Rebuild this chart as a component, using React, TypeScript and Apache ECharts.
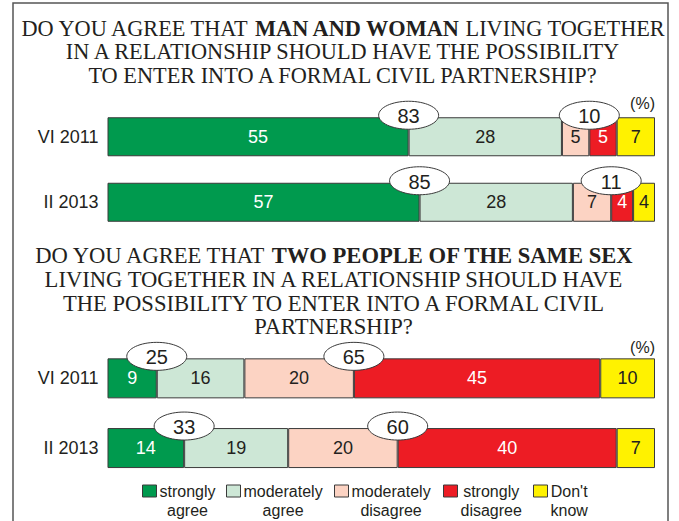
import React, { useEffect, useRef } from 'react';
import * as echarts from 'echarts';

const categories = ['VI 2011', 'II 2013'];
const seriesNames = ['strongly agree', 'moderately agree', 'moderately disagree', 'strongly disagree', "Don't know"];
const legendLines = [['strongly', 'agree'], ['moderately', 'agree'], ['moderately', 'disagree'], ['strongly', 'disagree'], ["Don't", 'know']];
const colors = ['#009a4e', '#cde7d6', '#fcd3c3', '#ed1c24', '#fff200'];
const labelColors = ['#ffffff', '#231f20', '#231f20', '#ffffff', '#231f20'];

// Question 1 (man and woman)
const q1StronglyAgree = [55, 57];
const q1ModeratelyAgree = [28, 28];
const q1ModeratelyDisagree = [5, 7];
const q1StronglyDisagree = [5, 4];
const q1DontKnow = [7, 4];
const q1AgreeTotal = [83, 85];
const q1DisagreeTotal = [10, 11];

// Question 2 (same sex)
const q2StronglyAgree = [9, 14];
const q2ModeratelyAgree = [16, 19];
const q2ModeratelyDisagree = [20, 20];
const q2StronglyDisagree = [45, 40];
const q2DontKnow = [10, 7];
const q2AgreeTotal = [25, 33];
const q2DisagreeTotal = [65, 60];

// Titles: odd segments are bold
const title1Lines = [
  ['DO YOU AGREE THAT ', 'MAN AND WOMAN', ' LIVING TOGETHER'],
  ['IN A RELATIONSHIP SHOULD HAVE THE POSSIBILITY'],
  ['TO ENTER INTO A FORMAL CIVIL PARTNERSHIP?'],
];
const title2Lines = [
  ['DO YOU AGREE THAT ', 'TWO PEOPLE OF THE SAME SEX'],
  ['LIVING TOGETHER IN A RELATIONSHIP SHOULD HAVE'],
  ['THE POSSIBILITY TO ENTER INTO A FORMAL CIVIL'],
  ['PARTNERSHIP?'],
];
const unitLabel = '(%)';

const SANS = "'Liberation Sans', Arial, Helvetica, sans-serif";
const SERIF = "'Liberation Serif', 'Times New Roman', serif";
const TEXT = '#231f20';
const BORDER = '#3a3a3a';

function richTitle(lines: string[][]) {
  return lines
    .map((segs) => segs.map((s, i) => `{${i % 2 ? 'b' : 'n'}|${s}}`).join(''))
    .join('\n');
}

function titleRich(size: number, lh: number) {
  return {
    n: { align: 'center', fontSize: size, lineHeight: lh, fontFamily: SERIF, fill: TEXT },
    b: { align: 'center', fontSize: size, lineHeight: lh, fontFamily: SERIF, fontWeight: 'bold', fill: TEXT },
  };
}

function bars(grid: number, arrays: number[][], barWidth: number) {
  return seriesNames.map((name, k) => ({
    type: 'bar',
    name,
    stack: 'stack' + grid,
    xAxisIndex: grid,
    yAxisIndex: grid,
    barWidth,
    data: arrays[k],
    itemStyle: { color: colors[k], borderColor: BORDER, borderWidth: 1 },
    label: {
      show: true,
      position: 'inside',
      color: labelColors[k],
      fontSize: 18,
      fontFamily: SANS,
    },
    emphasis: { disabled: true },
    z: 2,
  }));
}

function ellipses(grid: number, data: number[][], barWidth: number) {
  return {
    type: 'custom',
    xAxisIndex: grid,
    yAxisIndex: grid,
    data,
    z: 5,
    clip: false,
    silent: true,
    renderItem: (params: any, api: any) => {
      const p = api.coord([api.value(0), api.value(1)]);
      const cx = p[0];
      const cy = p[1] - barWidth / 2 - 2;
      return {
        type: 'group',
        children: [
          {
            type: 'ellipse',
            shape: { cx, cy, rx: 30, ry: 14 },
            style: { fill: '#ffffff', stroke: BORDER, lineWidth: 1 },
          },
          {
            type: 'text',
            style: {
              text: String(api.value(2)),
              x: cx,
              y: cy + 1,
              align: 'center',
              verticalAlign: 'middle',
              fontSize: 20,
              fontFamily: SANS,
              fill: TEXT,
            },
          },
        ],
      };
    },
  };
}

export default function App() {
  const ref = useRef<HTMLDivElement>(null);
  useEffect(() => {
    if (!ref.current) return;
    const chart = echarts.init(ref.current, null, { renderer: 'svg' });

    const q1Data = categories.map((_, i) => [
      [q1StronglyAgree[i], i, q1AgreeTotal[i]],
      [q1StronglyAgree[i] + q1ModeratelyAgree[i] + q1ModeratelyDisagree[i], i, q1DisagreeTotal[i]],
    ]).flat();
    const q2Data = categories.map((_, i) => [
      [q2StronglyAgree[i], i, q2AgreeTotal[i]],
      [q2StronglyAgree[i] + q2ModeratelyAgree[i] + q2ModeratelyDisagree[i], i, q2DisagreeTotal[i]],
    ]).flat();

    const legendLefts = [142, 226, 334, 443, 533];

    const yAxisBase = {
      type: 'category',
      data: categories,
      inverse: true,
      axisLine: { show: false },
      axisTick: { show: false },
      axisLabel: { fontSize: 18, color: TEXT, margin: 9, fontFamily: SANS },
    };
    const xAxisBase = { type: 'value', min: 0, max: 100, show: false };

    chart.setOption({
      animation: false,
      backgroundColor: '#ffffff',
      grid: [
        { left: 107.5, right: 24, top: 104, height: 131 },
        { left: 107.5, right: 24, top: 343.5, height: 139.4 },
      ],
      xAxis: [
        { ...xAxisBase, gridIndex: 0 },
        { ...xAxisBase, gridIndex: 1 },
      ],
      yAxis: [
        { ...yAxisBase, gridIndex: 0 },
        { ...yAxisBase, gridIndex: 1 },
      ],
      legend: seriesNames.map((name, k) => ({
        data: [name],
        left: legendLefts[k],
        top: 462.5,
        padding: 0,
        icon: 'rect',
        itemWidth: 14,
        itemHeight: 12,
        selectedMode: false,
        itemStyle: { borderColor: BORDER, borderWidth: 1 },
        formatter: () => legendLines[k].map((l) => `{c|${l}}`).join('\n'),
        textStyle: {
          color: TEXT,
          fontSize: 16,
          fontFamily: SANS,
          lineHeight: 19,
          padding: [19, 0, 0, -2],
          rich: {
            c: { align: 'center', fontSize: 16, lineHeight: 19, fontFamily: SANS, color: TEXT },
          },
        },
      })),
      graphic: [
        {
          type: 'rect',
          shape: { x: 13, y: 3, width: 655, height: 540 },
          style: { fill: 'none', stroke: '#555555', lineWidth: 1.5 },
          silent: true,
        },
        {
          type: 'text',
          x: 342.5,
          y: 16.5,
          style: {
            text: richTitle(title1Lines),
            align: 'center',
            verticalAlign: 'top',
            fontSize: 22.3,
            lineHeight: 23.5,
            fontFamily: SERIF,
            fill: TEXT,
            rich: titleRich(22.3, 23.5),
          },
        },
        {
          type: 'text',
          x: 333.5,
          y: 244,
          style: {
            text: richTitle(title2Lines),
            align: 'center',
            verticalAlign: 'top',
            fontSize: 22.6,
            lineHeight: 23.6,
            fontFamily: SERIF,
            fill: TEXT,
            rich: titleRich(22.6, 23.6),
          },
        },
        {
          type: 'text',
          x: 655,
          y: 103,
          style: { text: unitLabel, align: 'right', verticalAlign: 'middle', fontSize: 16, fontFamily: SANS, fill: TEXT },
        },
        {
          type: 'text',
          x: 655,
          y: 347,
          style: { text: unitLabel, align: 'right', verticalAlign: 'middle', fontSize: 16, fontFamily: SANS, fill: TEXT },
        },
      ],
      series: [
        ...bars(0, [q1StronglyAgree, q1ModeratelyAgree, q1ModeratelyDisagree, q1StronglyDisagree, q1DontKnow], 39),
        ...bars(1, [q2StronglyAgree, q2ModeratelyAgree, q2ModeratelyDisagree, q2StronglyDisagree, q2DontKnow], 40),
        ellipses(0, q1Data, 39),
        ellipses(1, q2Data, 40),
      ],
    });
    return () => chart.dispose();
  }, []);
  return (
    <div
      ref={ref}
      style={{ position: 'absolute', left: 0, top: 0, width: 679, height: 521 }}
    />
  );
}
